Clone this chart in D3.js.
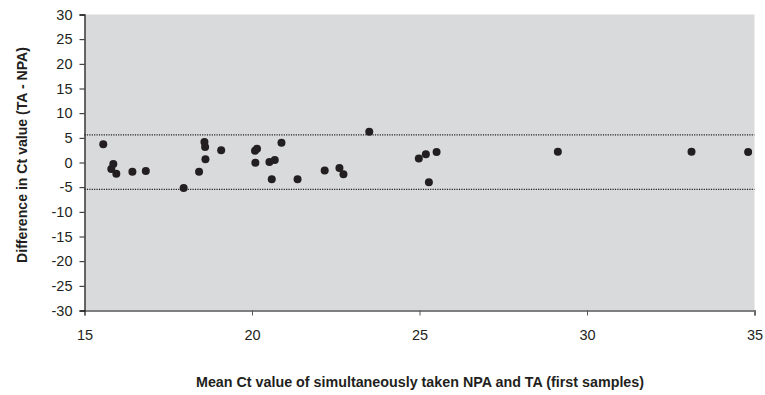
<!DOCTYPE html>
<html>
<head>
<meta charset="utf-8">
<script src="https://cdn.jsdelivr.net/npm/d3@7"></script>
<style>
  body { margin: 0; background: #fff; }
  svg { display: block; font-family: "Liberation Sans", Arial, sans-serif; }
</style>
</head>
<body>
<svg id="chart" width="765" height="395"></svg>
<script>
// Mean Ct value (x) and difference TA - NPA (y) for each paired sample
const meanCt = [15.56, 15.86, 15.80, 15.95, 16.43, 16.83, 17.96, 18.42, 18.58, 18.60,
                18.61, 19.08, 20.09, 20.15, 20.10, 20.52, 20.68, 20.59, 20.88, 21.36,
                22.17, 22.61, 22.73, 23.50, 24.98, 25.19, 25.51, 25.28, 29.13, 33.12, 34.81];
const diffCt = [3.7, -0.3, -1.3, -2.3, -1.85, -1.7, -5.15, -1.9, 4.15, 3.15,
                0.65, 2.5, 2.4, 2.8, -0.05, 0.1, 0.5, -3.4, 4.0, -3.4,
                -1.6, -1.1, -2.4, 6.25, 0.8, 1.65, 2.15, -4.0, 2.2, 2.2, 2.15];
// Limits of agreement
const limits = [5.6, -5.45];
const xTicks = [15, 20, 25, 30, 35];
const yTicks = [-30, -25, -20, -15, -10, -5, 0, 5, 10, 15, 20, 25, 30];

const svg = d3.select("#chart");
const plotL = 84.5, plotR = 754.5, plotT = 14.5, plotB = 310.5;

const x = d3.scaleLinear().domain([15, 35]).range([plotL, plotR]);
const y = d3.scaleLinear().domain([-30, 30]).range([plotB, plotT]);

// plain hyphen-minus labels
const fmt = d => String(d);

// plot area
svg.append("rect")
  .attr("x", plotL).attr("y", plotT)
  .attr("width", plotR - plotL).attr("height", plotB - plotT)
  .attr("fill", "#d9dadc");

// limit lines
svg.selectAll("line.limit").data(limits).enter().append("line")
  .attr("class", "limit")
  .attr("x1", plotL).attr("x2", plotR)
  .attr("y1", d => y(d)).attr("y2", d => y(d))
  .attr("stroke", "#231f20").attr("stroke-width", 1.3)
  .attr("stroke-dasharray", "1.2,1.2");

// bottom axis
const xAxis = svg.append("g")
  .attr("transform", `translate(0,${plotB})`)
  .call(d3.axisBottom(x).tickValues(xTicks).tickFormat(fmt).tickSize(5).tickPadding(14));
xAxis.select(".domain").attr("stroke", "#7f7f7f").attr("stroke-width", 2);
xAxis.selectAll(".tick line").attr("stroke", "#555");
xAxis.selectAll(".tick text").attr("font-size", 14.5).attr("fill", "#231f20")
  .attr("font-family", "Liberation Sans, Arial, sans-serif");

// left axis
const yAxis = svg.append("g")
  .attr("transform", `translate(${plotL},0)`)
  .call(d3.axisLeft(y).tickValues(yTicks).tickFormat(fmt).tickSize(5).tickPadding(7));
yAxis.select(".domain").attr("stroke", "#231f20").attr("stroke-width", 1.3);
yAxis.selectAll(".tick line").attr("stroke", "#231f20");
yAxis.selectAll(".tick text").attr("font-size", 14.5).attr("fill", "#231f20")
  .attr("font-family", "Liberation Sans, Arial, sans-serif");

// points
svg.selectAll("circle.pt").data(meanCt).enter().append("circle")
  .attr("class", "pt")
  .attr("cx", d => x(d))
  .attr("cy", (d, i) => y(diffCt[i]))
  .attr("r", 4)
  .attr("fill", "#231f20");

// axis titles
svg.append("text")
  .attr("x", 420).attr("y", 387)
  .attr("text-anchor", "middle")
  .attr("font-size", 14.3).attr("font-weight", "bold").attr("fill", "#231f20")
  .text("Mean Ct value of simultaneously taken NPA and TA (first samples)");

svg.append("text")
  .attr("transform", "translate(27,155) rotate(-90)")
  .attr("text-anchor", "middle")
  .attr("font-size", 14.1).attr("font-weight", "bold").attr("fill", "#231f20")
  .text("Difference in Ct value (TA - NPA)");
</script>
</body>
</html>
